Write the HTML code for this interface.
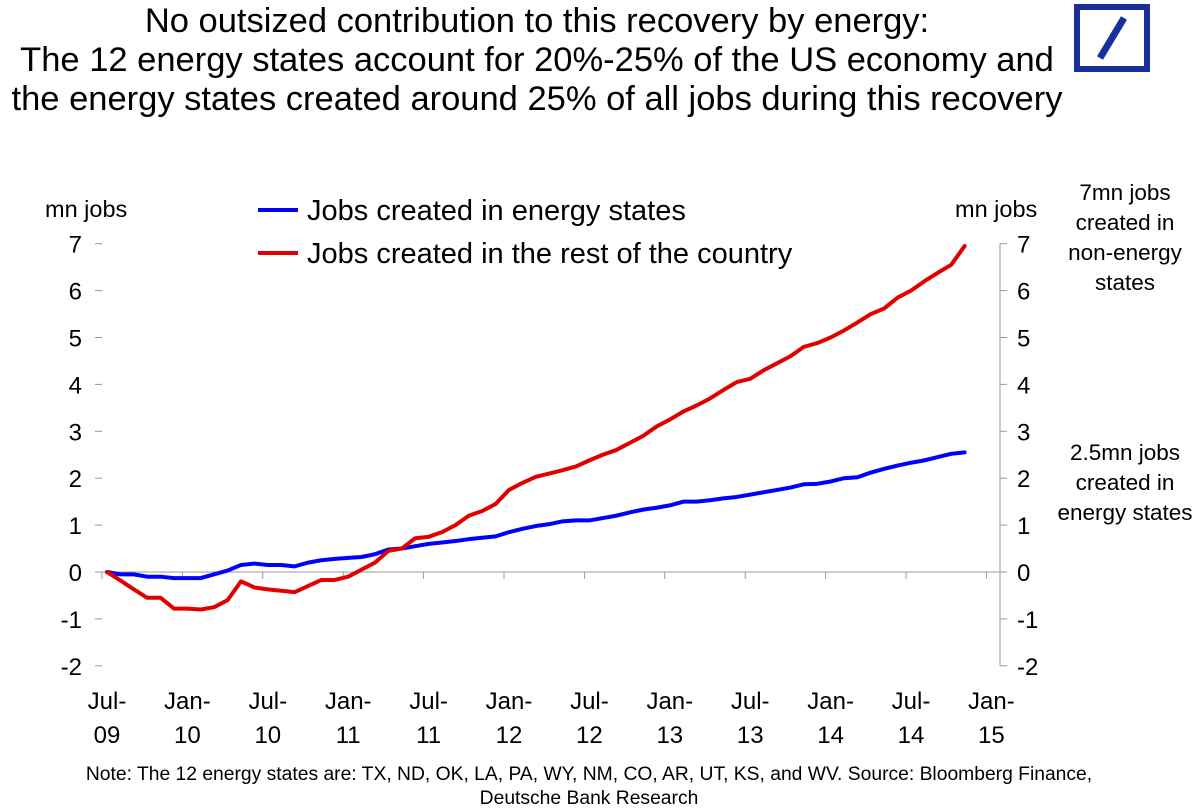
<!DOCTYPE html>
<html><head><meta charset="utf-8"><style>
body{margin:0;background:#fff;font-family:"Liberation Sans",Arial,sans-serif}
#wrap{position:relative;width:1200px;height:812px;overflow:hidden}
.t{position:absolute;white-space:nowrap}
</style></head><body>
<div id="wrap">
<div class="t" style="left:0;width:1074px;top:2px;text-align:center;font-size:34.5px;line-height:39px">No outsized contribution to this recovery by energy:<br>The 12 energy states account for 20%-25% of the US economy and<br>the energy states created around 25% of all jobs during this recovery</div>
<svg width="1200" height="812" style="position:absolute;left:0;top:0" id="svg">
<g><rect x="1077" y="7" width="70" height="62" fill="none" stroke="#1a2f9c" stroke-width="6"/><line x1="1100" y1="58" x2="1124" y2="18" stroke="#1a2f9c" stroke-width="7"/></g>
</svg>
<div class="t" style="left:45px;top:196px;font-size:23.5px">mn jobs</div>
<div class="t" style="left:955px;top:196px;font-size:23.5px">mn jobs</div>
<div class="t" style="left:1050px;width:150px;top:178px;text-align:center;font-size:22.5px;line-height:30px">7mn jobs<br>created in<br>non-energy<br>states</div>
<div class="t" style="left:1050px;width:150px;top:438px;text-align:center;font-size:22.5px;line-height:30px">2.5mn jobs<br>created in<br>energy states</div>
<div class="t" style="left:0;width:1178px;top:763px;text-align:center;font-size:19.3px;line-height:24px">Note: The 12 energy states are: TX, ND, OK, LA, PA, WY, NM, CO, AR, UT, KS, and WV. Source: Bloomberg Finance,<br>Deutsche Bank Research</div>
</div>
<script>
const yTicks=[-2,-1,0,1,2,3,4,5,6,7];
const xLabels=[["Jul-","09"],["Jan-","10"],["Jul-","10"],["Jan-","11"],["Jul-","11"],["Jan-","12"],["Jul-","12"],["Jan-","13"],["Jul-","13"],["Jan-","14"],["Jul-","14"],["Jan-","15"]];
const energyJobs=[0,-.05,-.05,-.1,-.1,-.13,-.13,-.13,-.05,.03,.15,.18,.15,.15,.12,.2,.25,.28,.3,.32,.38,.48,.5,.55,.6,.63,.66,.7,.73,.76,.85,.92,.98,1.02,1.08,1.1,1.1,1.15,1.2,1.27,1.33,1.37,1.42,1.5,1.5,1.53,1.57,1.6,1.65,1.7,1.75,1.8,1.87,1.88,1.93,2.0,2.02,2.12,2.2,2.27,2.33,2.38,2.45,2.52,2.55];
const restJobs=[0,-0.18,-0.37,-0.55,-0.55,-0.78,-0.78,-0.8,-0.75,-0.6,-0.2,-0.33,-0.37,-0.4,-0.43,-0.3,-0.17,-0.17,-0.1,0.05,0.2,0.45,0.5,0.72,0.75,0.85,1.0,1.2,1.3,1.45,1.75,1.9,2.03,2.1,2.17,2.25,2.38,2.5,2.6,2.75,2.9,3.1,3.25,3.42,3.55,3.7,3.88,4.05,4.12,4.3,4.45,4.6,4.8,4.88,5.0,5.15,5.32,5.5,5.62,5.85,6.0,6.2,6.38,6.55,6.95];
const NS="http://www.w3.org/2000/svg";
const svg=document.getElementById('svg');
const X=i=>107+i*80.4/6;
const Y=v=>572-v*46.9;
function mk(t,a){const e=document.createElementNS(NS,t);for(const k in a)e.setAttribute(k,a[k]);svg.appendChild(e);return e;}
let e=mk('line',{x1:1000,y1:Y(7),x2:1000,y2:Y(-2),stroke:'#999','stroke-width':1});


e=mk('line',{x1:102,y1:Y(0),x2:1000,y2:Y(0),stroke:'#999','stroke-width':1});


yTicks.forEach(v=>{
 let a=mk('line',{x1:95,x2:102,y1:Y(v),y2:Y(v),stroke:'#999'});
 
 
 let b=mk('line',{x1:1000,x2:1007,y1:Y(v),y2:Y(v),stroke:'#999'});
 
 
 let t=mk('text',{x:82,y:Y(v)+9,'text-anchor':'end','font-size':24,'font-family':'Liberation Sans, sans-serif'});t.textContent=v;
 
 
 let t2=mk('text',{x:1017,y:Y(v)+9,'font-size':24,'font-family':'Liberation Sans, sans-serif'});t2.textContent=v;
 
 
});
xLabels.forEach((l,k)=>{
 const x=X(k*6);
 let tk=mk('line',{x1:x-5,x2:x-5,y1:Y(0),y2:Y(0)+7,stroke:'#999'});
 
 
 let t=mk('text',{x:x,y:709,'text-anchor':'middle','font-size':24,'font-family':'Liberation Sans, sans-serif'});t.textContent=l[0];
 
 
 let t2=mk('text',{x:x,y:743,'text-anchor':'middle','font-size':24,'font-family':'Liberation Sans, sans-serif'});t2.textContent=l[1];
 
 
});
function line(d,c,n){const p=mk('polyline',{points:d.map((v,i)=>X(i)+','+Y(v)).join(' '),fill:'none',stroke:c,'stroke-width':4,'stroke-linejoin':'round','stroke-linecap':'round'});
 
 }
line(energyJobs,'#0000ff','energy-states-line');
line(restJobs,'#e00000','rest-of-country-line');
[['#0000ff','Jobs created in energy states',210,'legend-entry-energy'],['#e00000','Jobs created in the rest of the country',253,'legend-entry-rest']].forEach(l=>{
 let a=mk('line',{x1:258,x2:298,y1:l[2],y2:l[2],stroke:l[0],'stroke-width':4});
 
 
 let t=mk('text',{x:307,y:l[2]+10,'font-size':29,'font-family':'Liberation Sans, sans-serif'});t.textContent=l[1];
 
 
});
</script>
</body></html>
